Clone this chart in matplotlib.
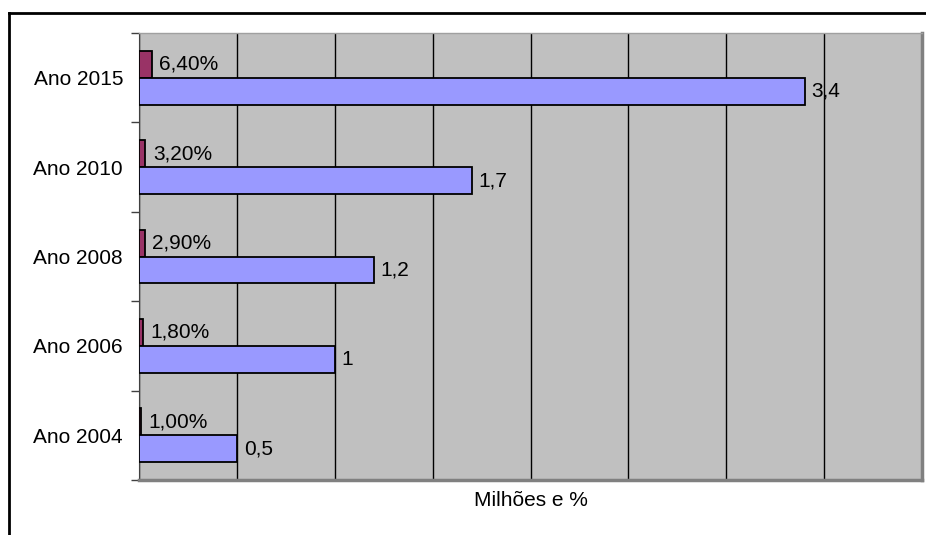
import matplotlib
matplotlib.use('Agg')
from matplotlib import pyplot as plt
from matplotlib.lines import Line2D

plt.rcParams['font.family'] = ['Liberation Sans', 'DejaVu Sans']

# Data (top to bottom)
anos = ["Ano 2015", "Ano 2010", "Ano 2008", "Ano 2006", "Ano 2004"]
milhoes = [3.4, 1.7, 1.2, 1.0, 0.5]
percentual = [0.064, 0.032, 0.029, 0.018, 0.010]

FS = 15


def main():
	fig = plt.figure(figsize=(9.26, 5.35), dpi=100)
	ax = fig.add_axes([139 / 926, 1 - 480 / 535, (922 - 139) / 926, (480 - 33) / 535])
	ax.set_facecolor('#C0C0C0')

	pos = list(range(len(anos)))
	h = 0.3
	ax.barh([p - 0.15 for p in pos], percentual, height=h, color='#993366',
			edgecolor='black', linewidth=1.3, zorder=3)
	ax.barh([p + 0.15 for p in pos], milhoes, height=h, color='#9999FF',
			edgecolor='black', linewidth=1.3, zorder=3)

	# value labels
	for p, v in zip(pos, percentual):
		txt = ("%.2f%%" % (v * 100)).replace('.', ',')
		ax.annotate(txt, (v, p - 0.15), xytext=(5.5, 0), textcoords='offset points',
					va='center', ha='left', fontsize=FS, zorder=4)
	for p, v in zip(pos, milhoes):
		txt = ("%g" % v).replace('.', ',')
		ax.annotate(txt, (v, p + 0.15), xytext=(5, 0), textcoords='offset points',
					va='center', ha='left', fontsize=FS, zorder=4)

	ax.set_xlim(0, 4)
	ax.set_ylim(len(anos) - 0.5, -0.5)

	# vertical gridlines every 0.5
	ax.set_xticks([i * 0.5 for i in range(9)])
	ax.xaxis.grid(True, color='black', linewidth=1)
	ax.set_axisbelow(True)
	ax.tick_params(axis='x', length=0, labelbottom=False)

	# category labels centred, ticks at band edges
	ax.set_yticks(pos)
	ax.set_yticklabels(anos, fontsize=FS)
	ax.tick_params(axis='y', length=0, pad=11.5)
	ax.set_yticks([p - 0.5 for p in pos] + [len(anos) - 0.5], minor=True)
	ax.tick_params(axis='y', which='minor', length=6, width=1, color='#404040')

	ax.spines['left'].set_color('#404040')
	ax.spines['top'].set_color('#A0A0A0')
	ax.spines['top'].set_linewidth(1)
	ax.spines['right'].set_color('#808080')
	ax.spines['right'].set_linewidth(2.5)
	ax.spines['bottom'].set_color('#808080')
	ax.spines['bottom'].set_linewidth(2.5)

	ax.set_xlabel('Milhões e %', fontsize=FS, labelpad=8)

	# outer chart frame (only left and top visible)
	fig.add_artist(Line2D([9 / 926, 9 / 926], [0, 1 - 13 / 535], color='black', linewidth=2))
	fig.add_artist(Line2D([9 / 926, 1], [1 - 13 / 535, 1 - 13 / 535], color='black', linewidth=2))

	plt.savefig('out.png', dpi=100)


if __name__ == "__main__":
	main()
